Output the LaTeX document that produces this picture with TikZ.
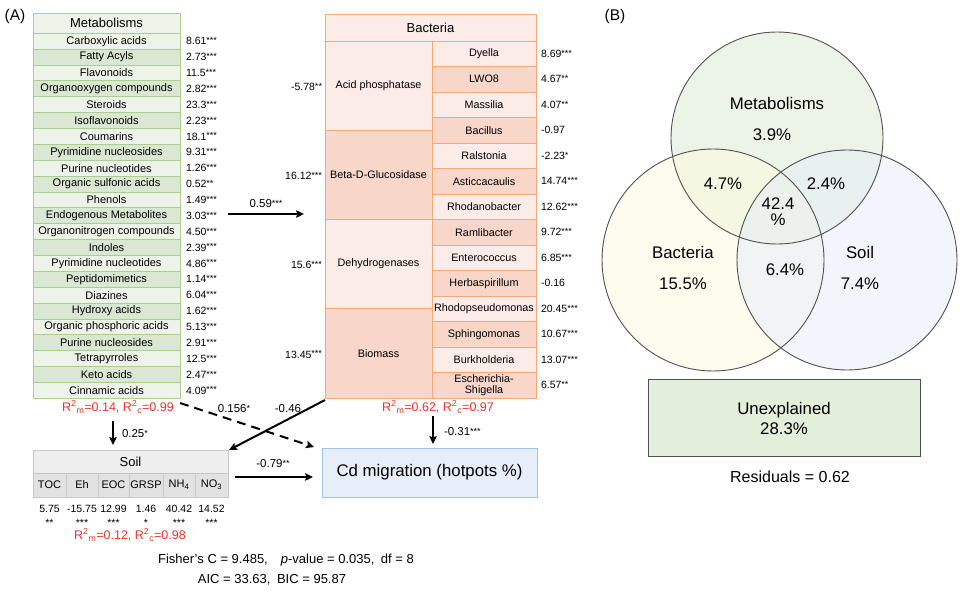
\documentclass[tikz,border=0pt]{standalone}
\usepackage{fontspec}
\setmainfont{Liberation Sans}
\usetikzlibrary{arrows.meta}
\definecolor{mborder}{RGB}{169,209,142}
\definecolor{mlight}{RGB}{238,243,234}
\definecolor{mdark}{RGB}{218,231,211}
\definecolor{bborder}{RGB}{244,168,116}
\definecolor{blight}{RGB}{252,236,231}
\definecolor{bdark}{RGB}{248,214,202}
\definecolor{sborder}{RGB}{200,200,200}
\definecolor{shead}{RGB}{238,238,238}
\definecolor{scell}{RGB}{226,226,226}
\definecolor{cdfill}{RGB}{230,238,249}
\definecolor{cdborder}{RGB}{157,195,230}
\definecolor{redtxt}{RGB}{238,50,40}
\definecolor{vline}{RGB}{80,80,80}
\definecolor{vmfill}{RGB}{218,234,208}
\definecolor{vbfill}{RGB}{253,249,222}
\definecolor{vsfill}{RGB}{229,236,249}
\definecolor{unfill}{RGB}{226,239,218}
\newcommand{\sg}[1]{\raisebox{1.2pt}{\fontsize{9}{9}\selectfont #1}}
\newcommand{\rsq}[2]{R\textsuperscript{2}\textsubscript{#1}=#2}
\begin{document}
\begin{tikzpicture}[x=1pt,y=-1pt,
  every node/.style={inner sep=0pt,outer sep=0pt},
  mcell/.style={draw=mborder,line width=0.9pt,minimum width=147pt,minimum height=15.87pt,font=\fontsize{11}{12}\selectfont},
  bcell/.style={draw=bborder,line width=0.9pt,minimum width=104pt,minimum height=25.5pt,align=center,font=\fontsize{10.8}{11.5}\selectfont},
  bsec/.style={draw=bborder,line width=0.9pt,minimum width=107pt,minimum height=89.25pt,font=\fontsize{10.8}{12}\selectfont},
  scellst/.style={draw=sborder,line width=0.9pt,fill=scell,minimum height=24pt,font=\fontsize{11}{12}\selectfont},
  val/.style={font=\fontsize{10.5}{12}\selectfont},
  redlab/.style={text=redtxt,font=\fontsize{12.5}{14}\selectfont},
  elab/.style={font=\fontsize{11.5}{13}\selectfont},
  arr/.style={line width=2pt,-{Stealth[length=8pt,width=7.5pt,inset=1.5pt]}},
  vtxt/.style={font=\fontsize{16.8}{19}\selectfont},
  plab/.style={font=\fontsize{15.5}{17}\selectfont}]
\useasboundingbox (0,0) rectangle (960,596);

% panel labels
\node[plab] (pa) at (15,16) {(A)};
\node[plab] (pb) at (615,16) {(B)};

% ---------------- Metabolisms ----------------
\node[mcell,fill=mlight,minimum height=20.3pt,font=\fontsize{13}{14}\selectfont] (mhead) at (106.5,23.15) {Metabolisms};
\foreach \nm/\vl [count=\i] in {Carboxylic acids/8.61\sg{***},Fatty Acyls/2.73\sg{***},Flavonoids/11.5\sg{***},Organooxygen compounds/2.82\sg{***},Steroids/23.3\sg{***},Isoflavonoids/2.23\sg{***},Coumarins/18.1\sg{***},Pyrimidine nucleosides/9.31\sg{***},Purine nucleotides/1.26\sg{***},Organic sulfonic acids/0.52\sg{**},Phenols/1.49\sg{***},Endogenous Metabolites/3.03\sg{***},Organonitrogen compounds/4.50\sg{***},Indoles/2.39\sg{***},Pyrimidine nucleotides/4.86\sg{***},Peptidomimetics/1.14\sg{***},Diazines/6.04\sg{***},Hydroxy acids/1.62\sg{***},Organic phosphoric acids/5.13\sg{***},Purine nucleosides/2.91\sg{***},Tetrapyrroles/12.5\sg{***},Keto acids/2.47\sg{***},Cinnamic acids/4.09\sg{***}}{
  \pgfmathsetmacro\yy{33.3+(\i-0.5)*15.87}
  \ifodd\i\def\rowfill{mlight}\else\def\rowfill{mdark}\fi
  \node[mcell,fill=\rowfill] (m\i) at (106.5,\yy) {\nm};
  \node[val,anchor=west] (mv\i) at (186,\yy) {\vl};
}
\node[redlab] (mr2) at (118,407) {\rsq{m}{0.14}, \rsq{c}{0.99}};

% ---------------- Bacteria ----------------
\node[bcell,fill=blight,minimum width=211pt,minimum height=27pt,font=\fontsize{13}{14}\selectfont] (bhead) at (430.5,27.5) {Bacteria};
\foreach \nm/\vl [count=\i] in {Acid phosphatase/-5.78\sg{**},Beta-D-Glucosidase/16.12\sg{***},Dehydrogenases/15.6\sg{***},Biomass/13.45\sg{***}}{
  \pgfmathsetmacro\yy{41+(\i-0.5)*89.25}
  \ifodd\i\def\rowfill{blight}\else\def\rowfill{bdark}\fi
  \node[bsec,fill=\rowfill] (bs\i) at (378.5,\yy) {\nm};
  \node[val,anchor=east] (bsv\i) at (322,\yy+1) {\vl};
}
\foreach \nm/\vl [count=\i] in {Dyella/8.69\sg{***},LWO8/4.67\sg{**},Massilia/4.07\sg{**},Bacillus/-0.97,Ralstonia/-2.23\sg{*},Asticcacaulis/14.74\sg{***},Rhodanobacter/12.62\sg{***},Ramlibacter/9.72\sg{***},Enterococcus/6.85\sg{***},Herbaspirillum/-0.16,Rhodopseudomonas/20.45\sg{***},Sphingomonas/10.67\sg{***},Burkholderia/13.07\sg{***}}{
  \pgfmathsetmacro\yy{41+(\i-0.5)*25.5}
  \ifodd\i\def\rowfill{blight}\else\def\rowfill{bdark}\fi
  \node[bcell,fill=\rowfill] (b\i) at (484,\yy) {\nm};
  \node[val,anchor=west] (bv\i) at (541,\yy) {\vl};
}
\node[bcell,fill=bdark,font=\fontsize{10.8}{11}\selectfont] (b14) at (484,385.25) {Escherichia-\\Shigella};
\node[val,anchor=west] (bv14) at (541,385.25) {6.57\sg{**}};
\node[redlab] (br2) at (438,407) {\rsq{m}{0.62}, \rsq{c}{0.97}};

% ---------------- Soil ----------------
\node[scellst,fill=shead,minimum width=195pt,minimum height=23pt,font=\fontsize{13}{14}\selectfont] (soil) at (130.5,461.5) {Soil};
\foreach \lab/\xa/\xb/\vv/\ss [count=\i] in {TOC/33/66/5.75/**,Eh/66/98/-15.75/***,EOC/98/129/12.99/***,GRSP/129/163/1.46/*,NH\textsubscript{4}/163/195/40.42/***,NO\textsubscript{3}/195/228/14.52/***}{
  \pgfmathsetmacro\xc{(\xa+\xb)/2}
  \pgfmathsetmacro\ww{\xb-\xa}
  \node[scellst,minimum width=\ww pt] (s\i) at (\xc,485) {\lab};
  \node[val] (sv\i) at (\xc,509) {\vv};
  \node[val] (ss\i) at (\xc,523) {\ss};
}
\node[redlab] (sr2) at (130,535) {\rsq{m}{0.12}, \rsq{c}{0.98}};

% ---------------- Cd migration ----------------
\node[draw=cdborder,line width=0.9pt,fill=cdfill,minimum width=215pt,minimum height=49pt,font=\fontsize{16.8}{19}\selectfont] (cd) at (429.5,472.5) {Cd migration (hotpots \%)};

% ---------------- connectors ----------------
\coordinate (c59s) at (228,214);
\coordinate (c59e) at (304,214);
\draw[arr] (c59s) -- (c59e);
\node[elab] (l59) at (266,204) {0.59\sg{***}};

\coordinate (c25s) at (113,421);
\coordinate (c25e) at (113,445);
\draw[arr] (c25s) -- (c25e);
\node[elab,anchor=west] (l25) at (122,434) {0.25\sg{*}};

\coordinate (cds) at (180,403);
\coordinate (cde) at (314,447);
\draw[arr,dash pattern=on 9pt off 6pt] (cds) -- (cde);
\node[elab] (l156) at (234,409) {0.156\sg{*}};

\coordinate (c46s) at (325,400);
\coordinate (c46e) at (229,450);
\draw[arr] (c46s) -- (c46e);
\node[elab] (l46) at (288,409) {-0.46};

\coordinate (c79s) at (235,477);
\coordinate (c79e) at (313,477);
\draw[arr] (c79s) -- (c79e);
\node[elab] (l79) at (273,464) {-0.79\sg{**}};

\coordinate (c31s) at (433,416);
\coordinate (c31e) at (433,444);
\draw[arr] (c31s) -- (c31e);
\node[elab,anchor=west] (l31) at (444,432) {-0.31\sg{***}};

% ---------------- bottom statistics ----------------
\node[font=\fontsize{13}{15}\selectfont] (fisher) at (286,560) {Fisher's C = 9.485,\quad\textit{p}-value = 0.035,\enspace df = 8};
\node[font=\fontsize{13}{15}\selectfont] (aic) at (272,580) {AIC = 33.63,\enspace BIC = 95.87};

% ---------------- Venn ----------------
\node[circle,minimum size=212pt,fill=vmfill,fill opacity=0.5] (vm) at (777,138) {};
\node[circle,minimum size=222pt,fill=vbfill,fill opacity=0.5] (vb) at (713,260) {};
\node[circle,minimum size=220pt,fill=vsfill,fill opacity=0.5] (vs) at (847,260) {};
\draw[vline,line width=0.9pt] (vm.center) circle[radius=106];
\draw[vline,line width=0.9pt] (vb.center) circle[radius=111];
\draw[vline,line width=0.9pt] (vs.center) circle[radius=110];
\node[vtxt] (tm) at (777,103) {Metabolisms};
\node[vtxt] (tm2) at (772,135) {3.9\%};
\node[vtxt] (tmb) at (723,184) {4.7\%};
\node[vtxt] (tms) at (826,184) {2.4\%};
\node[vtxt,align=center,font=\fontsize{16.8}{16}\selectfont] (tall) at (778,212) {42.4\\\%};
\node[vtxt] (tb) at (683,252) {Bacteria};
\node[vtxt] (tb2) at (683,284) {15.5\%};
\node[vtxt] (ts) at (860,252) {Soil};
\node[vtxt] (ts2) at (860,284) {7.4\%};
\node[vtxt] (tbs) at (785,270) {6.4\%};

\node[draw=vline,line width=0.9pt,fill=unfill,minimum width=272pt,minimum height=77pt,align=center,font=\fontsize{16.8}{20}\selectfont] (unexp) at (784,418) {Unexplained\\28.3\%};
\node[font=\fontsize{16}{18}\selectfont] (resid) at (790,477) {Residuals = 0.62};
\end{tikzpicture}
\end{document}
